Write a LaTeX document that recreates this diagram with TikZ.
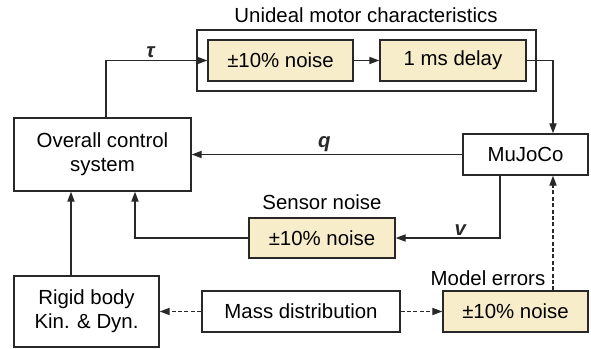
\documentclass[tikz,border=0pt]{standalone}
\usepackage{fontspec}
\setmainfont{Liberation Sans}
\usetikzlibrary{arrows.meta,positioning}

\definecolor{noisefill}{RGB}{248,237,203}
\definecolor{edgegray}{RGB}{40,40,40}

\begin{document}
\begin{tikzpicture}[x=0.5pt,y=-0.5pt,
  font=\fontsize{10.2}{12}\selectfont,
  block/.style={draw=edgegray, line width=0.7pt, inner sep=0pt, align=center},
  noisebox/.style={block, fill=noisefill},
  arr/.style={-{Triangle[length=5pt,width=3.6pt]}, line width=0.65pt, edgegray},
  dasharr/.style={arr, dash pattern=on 2pt off 1.2pt},
  sig/.style={font=\fontsize{10.2}{12}\selectfont\bfseries\itshape, inner sep=1pt}]
\useasboundingbox (0,0) rectangle (591,349);
% motor block
\node[block, minimum width=169.5pt, minimum height=30.5pt] (motor) at (366.5,60.5) {};
\node (motorlbl) at (366,15) {Unideal motor characteristics};
\node[noisebox, minimum width=72.5pt, minimum height=20.5pt] (noiseA) at (280.5,60.5) {±10\% noise};
\node[noisebox, minimum width=73pt, minimum height=20.5pt] (delay) at (453,60.5) {1 ms delay};
% main blocks
\node[block, minimum width=88.5pt, minimum height=36.5pt] (ctrl) at (102.5,154.5) {Overall control\\system};
\node[block, minimum width=62.5pt, minimum height=20.5pt] (mujoco) at (525.5,154.5) {MuJoCo};
\node[noisebox, minimum width=73pt, minimum height=20pt] (sensor) at (322,238) {±10\% noise};
\node (sensorlbl) at (322,202) {Sensor noise};
\node[block, minimum width=72.5pt, minimum height=35.5pt] (rigid) at (86.5,311.5) {Rigid body\\Kin. \& Dyn.};
\node[block, minimum width=99pt, minimum height=20.5pt] (mass) at (301,311.5) {Mass distribution};
\node[noisebox, minimum width=72.5pt, minimum height=20.5pt] (model) at (515.5,311.5) {±10\% noise};
\node (modellbl) at (488,278) {Model errors};
% connectors
\coordinate (mjin) at ([xshift=13.75pt]mujoco.north);
\coordinate (mjout) at ([xshift=-12.75pt]mujoco.south);
\coordinate (ctrlin) at ([xshift=16.25pt]ctrl.south);
\coordinate (rgout) at ([xshift=-7.75pt]rigid.north);
\draw[arr] ([xshift=1.75pt]ctrl.north) |- (noiseA.west) node[sig, above, pos=0.72] {τ};
\draw[arr] (noiseA) -- (delay);
\draw[arr] (delay.east) -| (mjin);
\draw[arr] (mujoco.west) -- (ctrl.east) node[sig, above, pos=0.51] {q};
\draw[arr] (mjout) |- (sensor.east) node[sig, above, pos=0.69] {v};
\draw[arr] (sensor.west) -| (ctrlin);
\draw[arr] (rgout) -- (rgout |- ctrl.south);
\draw[dasharr] (mass.west) -- (rigid.east);
\draw[dasharr] (mass.east) -- (model.west);
\draw[dasharr] (model.north -| mjin) -- (mujoco.south -| mjin);
\end{tikzpicture}
\end{document}
